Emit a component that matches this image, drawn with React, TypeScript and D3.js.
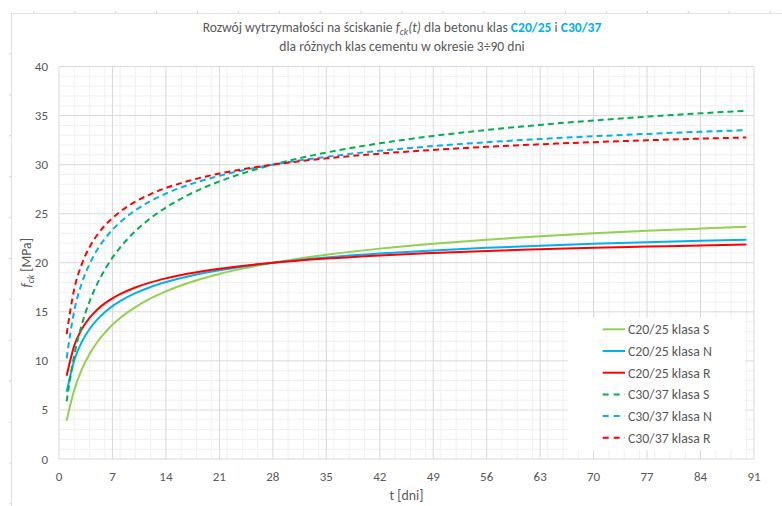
import React from "react";
import * as d3 from "d3";

const days = [1, 2, 3, 4, 5, 6, 7, 8, 10, 12, 14, 17, 21, 24, 28, 35, 42, 49, 56, 63, 70, 77, 84, 90];
const c20S = [3.92, 7.06, 9.16, 10.70, 11.90, 12.87, 13.68, 14.37, 15.48, 16.37, 17.09, 17.96, 18.86, 19.40, 20.00, 20.82, 21.44, 21.94, 22.35, 22.70, 23.00, 23.26, 23.48, 23.66];
const c20N = [6.84, 10.08, 11.96, 13.25, 14.21, 14.96, 15.58, 16.09, 16.90, 17.53, 18.03, 18.63, 19.24, 19.60, 20.00, 20.54, 20.94, 21.26, 21.52, 21.74, 21.93, 22.09, 22.23, 22.34];
const c20R = [8.48, 11.56, 13.26, 14.39, 15.22, 15.86, 16.37, 16.80, 17.48, 18.00, 18.41, 18.90, 19.39, 19.68, 20.00, 20.43, 20.75, 21.00, 21.21, 21.38, 21.53, 21.65, 21.76, 21.85];
const c30S = [5.87, 10.58, 13.74, 16.05, 17.85, 19.30, 20.52, 21.55, 23.23, 24.55, 25.63, 26.94, 28.29, 29.10, 30.00, 31.23, 32.17, 32.92, 33.53, 34.05, 34.50, 34.89, 35.23, 35.49];
const c30N = [10.26, 15.12, 17.95, 19.88, 21.32, 22.45, 23.36, 24.13, 25.35, 26.29, 27.05, 27.95, 28.86, 29.41, 30.00, 30.80, 31.41, 31.89, 32.28, 32.61, 32.89, 33.13, 33.35, 33.51];
const c30R = [12.72, 17.34, 19.89, 21.59, 22.83, 23.79, 24.56, 25.20, 26.22, 27.00, 27.62, 28.35, 29.09, 29.52, 30.00, 30.64, 31.12, 31.50, 31.81, 32.07, 32.29, 32.48, 32.65, 32.77];

const seriesNames = ["C20/25 klasa S", "C20/25 klasa N", "C20/25 klasa R", "C30/37 klasa S", "C30/37 klasa N", "C30/37 klasa R"];
const seriesValues = [c20S, c20N, c20R, c30S, c30N, c30R];
const seriesColors = ["#92d050", "#00b0f0", "#ff0000", "#00b050", "#00b0f0", "#ff0000"];
const seriesDashed = [false, false, false, true, true, true];

const xTicks = [0, 7, 14, 21, 28, 35, 42, 49, 56, 63, 70, 77, 84, 91];
const yTicks = [0, 5, 10, 15, 20, 25, 30, 35, 40];

const W = 782;
const H = 506;
const FONT = "Calibri, Carlito, Lato, 'Open Sans', sans-serif";
const TXT = "#595959";

export default function App() {
  const left = 59, right = 754, top = 66.5, bottom = 459;
  const x = d3.scaleLinear().domain([0, 91]).range([left, right]);
  const y = d3.scaleLinear().domain([0, 40]).range([bottom, top]);
  const line = d3
    .line<[number, number]>()
    .x((d) => x(d[0]))
    .y((d) => y(d[1]))
    .curve(d3.curveMonotoneX);

  const minorX = d3.range(2, 91, 2).filter((v) => v % 7 !== 0);
  const minorY = d3.range(1, 40, 1).filter((v) => v % 5 !== 0);
  const rulerX = d3.range(33.9, W, 40.9);
  const rulerY = d3.range(54, H, 40.9);

  const legX = 568, legY = 318, legW = 177, legH = 132;
  const rowH = 21.7;

  return (
    <svg
      width={W}
      height={H}
      style={{ position: "absolute", left: 0, top: 0, display: "block", background: "#fff" }}
      fontFamily={FONT}
    >
      <rect x={0} y={0} width={W} height={H} fill="#fff" />
      {/* outer frame remnants */}
      <line x1={11} x2={W} y1={13.5} y2={13.5} stroke="#e3e3e3" strokeWidth={1} />
      <line x1={11.5} x2={11.5} y1={13} y2={H} stroke="#e3e3e3" strokeWidth={1} />
      {rulerX.map((v, i) => (
        <line key={"rx" + i} x1={v} x2={v} y1={11} y2={13} stroke="#d0d0d0" />
      ))}
      {rulerY.map((v, i) => (
        <line key={"ry" + i} x1={9} x2={11} y1={v} y2={v} stroke="#d0d0d0" />
      ))}

      {/* minor grid */}
      {minorX.map((v) => (
        <line key={"mx" + v} x1={x(v)} x2={x(v)} y1={top} y2={bottom} stroke="#f0f0f0" strokeWidth={1} />
      ))}
      {minorY.map((v) => (
        <line key={"my" + v} x1={left} x2={right} y1={y(v)} y2={y(v)} stroke="#f0f0f0" strokeWidth={1} />
      ))}
      {/* major grid */}
      {xTicks.map((v) => (
        <line key={"gx" + v} x1={x(v)} x2={x(v)} y1={top} y2={bottom} stroke="#d9d9d9" strokeWidth={1} />
      ))}
      {yTicks.map((v) => (
        <line key={"gy" + v} x1={left} x2={right} y1={y(v)} y2={y(v)} stroke="#d9d9d9" strokeWidth={1} />
      ))}

      {/* series */}
      {seriesValues.map((vals, i) => (
        <path
          key={"s" + i}
          d={line(days.map((d, j) => [d, vals[j]] as [number, number])) || ""}
          fill="none"
          stroke={seriesColors[i]}
          strokeWidth={2}
          strokeDasharray={seriesDashed[i] ? "6,4" : undefined}
          strokeLinecap="butt"
        />
      ))}

      {/* tick labels */}
      {yTicks.map((v) => (
        <text key={"ty" + v} x={48} y={y(v)} dy="0.35em" textAnchor="end" fontSize={13} fill={TXT}>
          {v}
        </text>
      ))}
      {xTicks.map((v) => (
        <text key={"tx" + v} x={x(v)} y={476} dy="0.35em" textAnchor="middle" fontSize={13} fill={TXT}>
          {v}
        </text>
      ))}

      {/* axis titles */}
      <text x={x(45.5)} y={495} dy="0.35em" textAnchor="middle" fontSize={13.8} fill={TXT}>
        t [dni]
      </text>
      <text
        transform={`translate(26, ${(top + bottom) / 2}) rotate(-90)`}
        textAnchor="middle"
        dy="0.35em"
        fontSize={13.8}
        fill={TXT}
      >
        <tspan fontStyle="italic">f</tspan>
        <tspan fontStyle="italic" fontSize={9.5} dy={3}>ck</tspan>
        <tspan dy={-3}> [MPa]</tspan>
      </text>

      {/* title */}
      <text x={402} y={27.3} dy="0.35em" textAnchor="middle" fontSize={13.6} fill={TXT}>
        <tspan>Rozwój wytrzymałości na ściskanie </tspan>
        <tspan fontStyle="italic">f</tspan>
        <tspan fontStyle="italic" fontSize={9.5} dy={2.5}>ck</tspan>
        <tspan fontStyle="italic" dy={-2.5}>(t)</tspan>
        <tspan> dla betonu klas </tspan>
        <tspan fontWeight="bold" fill="#00b0f0">C20/25</tspan>
        <tspan> i </tspan>
        <tspan fontWeight="bold" fill="#00b0f0">C30/37</tspan>
      </text>
      <text x={402} y={46} dy="0.35em" textAnchor="middle" fontSize={13.6} fill={TXT}>
        dla różnych klas cementu w okresie 3÷90 dni
      </text>

      {/* legend */}
      <rect x={legX} y={legY} width={legW} height={legH} fill="#fff" />
      {seriesNames.map((name, i) => {
        const cy = legY + 11.3 + i * rowH;
        return (
          <g key={"lg" + i}>
            <line
              x1={602.7}
              x2={625}
              y1={cy}
              y2={cy}
              stroke={seriesColors[i]}
              strokeWidth={2}
              strokeDasharray={seriesDashed[i] ? "6,5" : undefined}
            />
            <text x={628} y={cy} dy="0.35em" fontSize={13.8} fill={TXT}>
              {name}
            </text>
          </g>
        );
      })}
    </svg>
  );
}
